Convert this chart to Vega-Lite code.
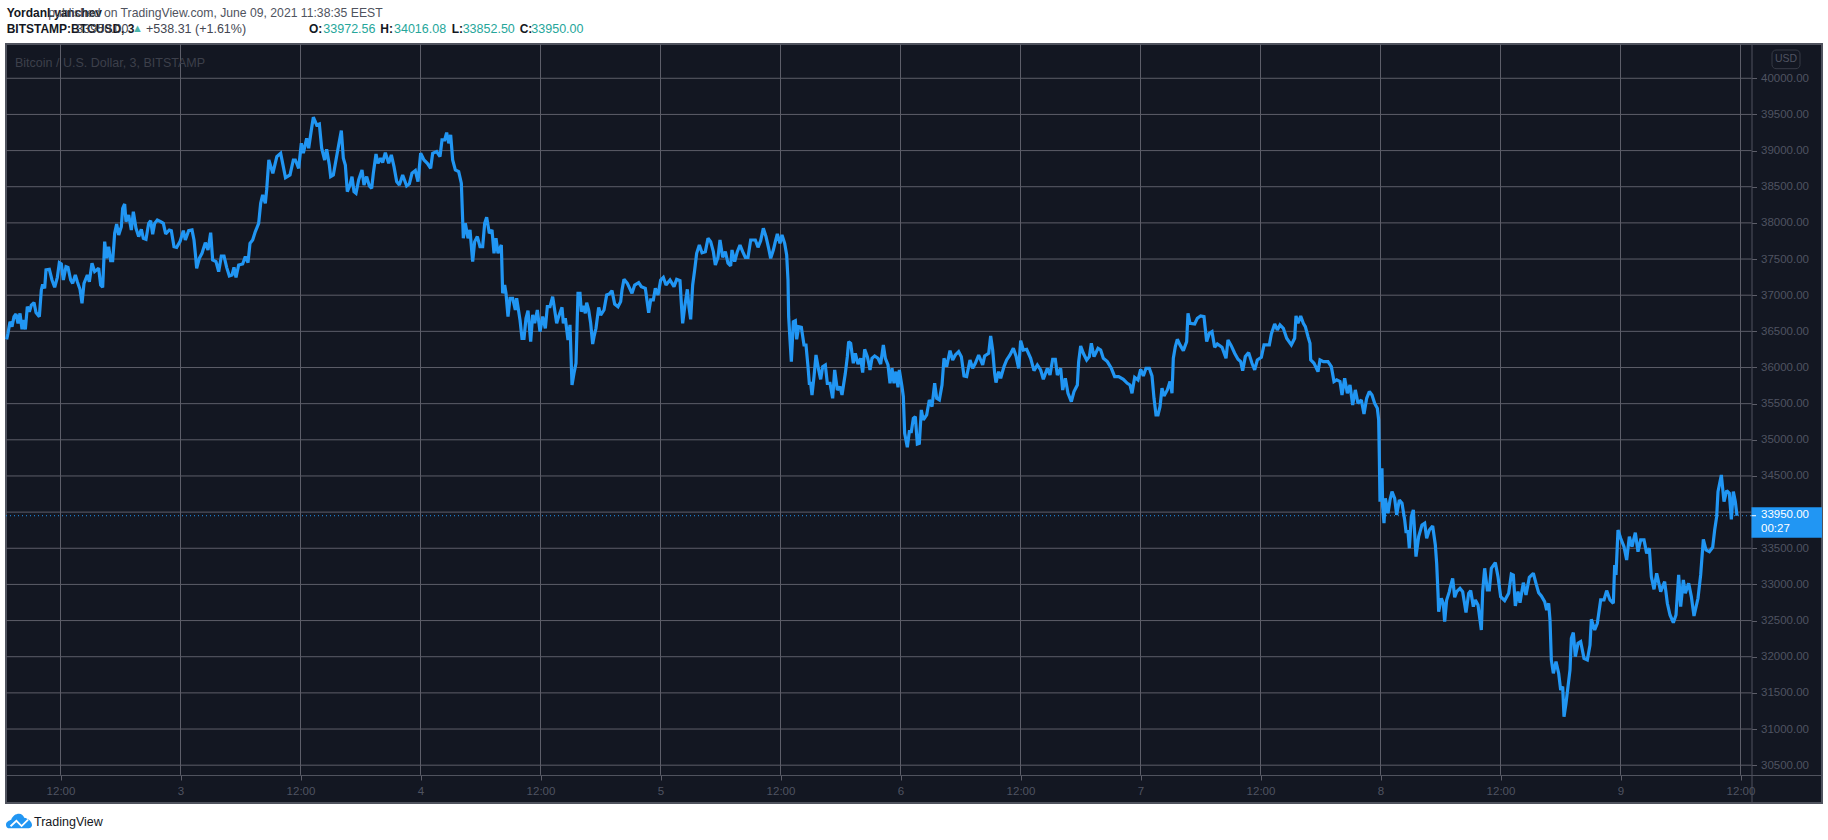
{
"$schema":"https://vega.github.io/schema/vega-lite/v6.json",
"description":"BTCUSD 3 minute line chart, TradingView style.",
"autosize":"none",
"width":1816,
"height":759,
"padding":{"left":6,"top":44,"right":6,"bottom":37},
"background":"#ffffff",
"view":{"fill":"#131722","stroke":"#50535e","strokeWidth":2},
"config":{"font":"Liberation Sans"},
"data":{"values":[{}]},
"datasets":{
"ticks":[{"t":"2021-06-02T12:00"},{"t":"2021-06-03T00:00"},{"t":"2021-06-03T12:00"},{"t":"2021-06-04T00:00"},{"t":"2021-06-04T12:00"},{"t":"2021-06-05T00:00"},{"t":"2021-06-05T12:00"},{"t":"2021-06-06T00:00"},{"t":"2021-06-06T12:00"},{"t":"2021-06-07T00:00"},{"t":"2021-06-07T12:00"},{"t":"2021-06-08T00:00"},{"t":"2021-06-08T12:00"},{"t":"2021-06-09T00:00"},{"t":"2021-06-09T12:00"}],
"levels":[{"p":30500},{"p":31000},{"p":31500},{"p":32000},{"p":32500},{"p":33000},{"p":33500},{"p":34000},{"p":34500},{"p":35000},{"p":35500},{"p":36000},{"p":36500},{"p":37000},{"p":37500},{"p":38000},{"p":38500},{"p":39000},{"p":39500},{"p":40000}],
"btc":[
{"t":"2021-06-02T06:37","p":36390},{"t":"2021-06-02T06:45","p":36473},{"t":"2021-06-02T06:57","p":36634},{"t":"2021-06-02T07:09","p":36565},{"t":"2021-06-02T07:21","p":36703},{"t":"2021-06-02T07:33","p":36740},{"t":"2021-06-02T07:45","p":36611},{"t":"2021-06-02T07:57","p":36749},{"t":"2021-06-02T08:09","p":36528},{"t":"2021-06-02T08:17","p":36657},{"t":"2021-06-02T08:29","p":36528},{"t":"2021-06-02T08:41","p":36841},{"t":"2021-06-02T08:53","p":36772},{"t":"2021-06-02T09:05","p":36864},{"t":"2021-06-02T09:21","p":36897},{"t":"2021-06-02T09:33","p":36759},{"t":"2021-06-02T09:53","p":36703},{"t":"2021-06-02T10:05","p":37072},{"t":"2021-06-02T10:13","p":37150},{"t":"2021-06-02T10:25","p":37095},{"t":"2021-06-02T10:33","p":37349},{"t":"2021-06-02T10:53","p":37358},{"t":"2021-06-02T11:09","p":37210},{"t":"2021-06-02T11:25","p":37109},{"t":"2021-06-02T11:41","p":37247},{"t":"2021-06-02T11:53","p":37450},{"t":"2021-06-02T12:05","p":37432},{"t":"2021-06-02T12:17","p":37210},{"t":"2021-06-02T12:33","p":37395},{"t":"2021-06-02T12:45","p":37385},{"t":"2021-06-02T13:01","p":37210},{"t":"2021-06-02T13:13","p":37164},{"t":"2021-06-02T13:29","p":37279},{"t":"2021-06-02T13:41","p":37187},{"t":"2021-06-02T13:57","p":37081},{"t":"2021-06-02T14:09","p":36888},{"t":"2021-06-02T14:21","p":37164},{"t":"2021-06-02T14:41","p":37279},{"t":"2021-06-02T14:53","p":37187},{"t":"2021-06-02T15:09","p":37441},{"t":"2021-06-02T15:25","p":37326},{"t":"2021-06-02T15:49","p":37372},{"t":"2021-06-02T16:01","p":37141},{"t":"2021-06-02T16:13","p":37109},{"t":"2021-06-02T16:25","p":37740},{"t":"2021-06-02T16:37","p":37510},{"t":"2021-06-02T16:49","p":37671},{"t":"2021-06-02T17:01","p":37478},{"t":"2021-06-02T17:13","p":37478},{"t":"2021-06-02T17:25","p":37856},{"t":"2021-06-02T17:37","p":37985},{"t":"2021-06-02T17:49","p":37833},{"t":"2021-06-02T18:05","p":37948},{"t":"2021-06-02T18:13","p":38201},{"t":"2021-06-02T18:25","p":38261},{"t":"2021-06-02T18:33","p":38017},{"t":"2021-06-02T18:49","p":38109},{"t":"2021-06-02T19:05","p":37902},{"t":"2021-06-02T19:17","p":38155},{"t":"2021-06-02T19:33","p":37925},{"t":"2021-06-02T19:49","p":37810},{"t":"2021-06-02T20:05","p":37911},{"t":"2021-06-02T20:17","p":37787},{"t":"2021-06-02T20:33","p":37773},{"t":"2021-06-02T20:49","p":37994},{"t":"2021-06-02T21:01","p":38031},{"t":"2021-06-02T21:13","p":37842},{"t":"2021-06-02T21:25","p":37994},{"t":"2021-06-02T21:41","p":38040},{"t":"2021-06-02T22:01","p":38017},{"t":"2021-06-02T22:17","p":37994},{"t":"2021-06-02T22:31","p":37847},{"t":"2021-06-02T22:53","p":37902},{"t":"2021-06-02T23:05","p":37893},{"t":"2021-06-02T23:21","p":37671},{"t":"2021-06-02T23:37","p":37662},{"t":"2021-06-02T23:57","p":37740},
{"t":"2021-06-03T00:17","p":37893},{"t":"2021-06-03T00:29","p":37763},{"t":"2021-06-03T00:49","p":37893},{"t":"2021-06-03T01:09","p":37902},{"t":"2021-06-03T01:21","p":37763},{"t":"2021-06-03T01:29","p":37579},{"t":"2021-06-03T01:37","p":37372},{"t":"2021-06-03T01:53","p":37510},{"t":"2021-06-03T02:09","p":37579},{"t":"2021-06-03T02:29","p":37727},{"t":"2021-06-03T02:45","p":37625},{"t":"2021-06-03T03:01","p":37865},{"t":"2021-06-03T03:13","p":37487},{"t":"2021-06-03T03:33","p":37464},{"t":"2021-06-03T03:49","p":37326},{"t":"2021-06-03T04:05","p":37542},{"t":"2021-06-03T04:21","p":37542},{"t":"2021-06-03T04:37","p":37385},{"t":"2021-06-03T04:53","p":37266},{"t":"2021-06-03T05:09","p":37279},{"t":"2021-06-03T05:21","p":37385},{"t":"2021-06-03T05:33","p":37247},{"t":"2021-06-03T05:49","p":37418},{"t":"2021-06-03T06:13","p":37432},{"t":"2021-06-03T06:29","p":37533},{"t":"2021-06-03T06:45","p":37450},{"t":"2021-06-03T06:57","p":37717},{"t":"2021-06-03T07:13","p":37763},{"t":"2021-06-03T07:29","p":37879},{"t":"2021-06-03T07:49","p":37994},{"t":"2021-06-03T08:01","p":38271},{"t":"2021-06-03T08:13","p":38386},{"t":"2021-06-03T08:29","p":38271},{"t":"2021-06-03T08:37","p":38455},{"t":"2021-06-03T08:50","p":38870},{"t":"2021-06-03T09:14","p":38686},{"t":"2021-06-03T09:38","p":38916},{"t":"2021-06-03T10:01","p":38962},{"t":"2021-06-03T10:30","p":38626},{"t":"2021-06-03T10:57","p":38663},{"t":"2021-06-03T11:17","p":38870},{"t":"2021-06-03T11:29","p":38870},{"t":"2021-06-03T11:49","p":38755},{"t":"2021-06-03T12:05","p":39101},{"t":"2021-06-03T12:17","p":38963},{"t":"2021-06-03T12:37","p":39170},{"t":"2021-06-03T12:49","p":39032},{"t":"2021-06-03T13:05","p":39285},{"t":"2021-06-03T13:17","p":39461},{"t":"2021-06-03T13:37","p":39355},{"t":"2021-06-03T13:53","p":39368},{"t":"2021-06-03T14:07","p":39032},{"t":"2021-06-03T14:25","p":38870},{"t":"2021-06-03T14:37","p":39018},{"t":"2021-06-03T14:53","p":38801},{"t":"2021-06-03T15:01","p":38640},{"t":"2021-06-03T15:17","p":38663},{"t":"2021-06-03T15:33","p":38870},{"t":"2021-06-03T15:49","p":39078},{"t":"2021-06-03T16:05","p":39276},{"t":"2021-06-03T16:17","p":38894},{"t":"2021-06-03T16:29","p":38801},{"t":"2021-06-03T16:41","p":38433},{"t":"2021-06-03T16:57","p":38525},{"t":"2021-06-03T17:09","p":38640},{"t":"2021-06-03T17:21","p":38433},{"t":"2021-06-03T17:33","p":38410},{"t":"2021-06-03T17:49","p":38594},{"t":"2021-06-03T18:09","p":38732},{"t":"2021-06-03T18:21","p":38525},{"t":"2021-06-03T18:37","p":38640},{"t":"2021-06-03T18:53","p":38511},{"t":"2021-06-03T19:07","p":38479},{"t":"2021-06-03T19:17","p":38686},{"t":"2021-06-03T19:33","p":38953},{"t":"2021-06-03T19:45","p":38824},{"t":"2021-06-03T20:01","p":38894},{"t":"2021-06-03T20:13","p":38834},{"t":"2021-06-03T20:29","p":38972},{"t":"2021-06-03T20:49","p":38824},{"t":"2021-06-03T21:05","p":38940},{"t":"2021-06-03T21:21","p":38778},{"t":"2021-06-03T21:37","p":38571},{"t":"2021-06-03T21:53","p":38525},{"t":"2021-06-03T22:13","p":38663},{"t":"2021-06-03T22:37","p":38511},{"t":"2021-06-03T22:53","p":38539},{"t":"2021-06-03T23:09","p":38686},{"t":"2021-06-03T23:29","p":38723},{"t":"2021-06-03T23:45","p":38571},
{"t":"2021-06-04T00:01","p":38963},{"t":"2021-06-04T00:21","p":38870},{"t":"2021-06-04T00:41","p":38824},{"t":"2021-06-04T01:01","p":38755},{"t":"2021-06-04T01:13","p":38963},{"t":"2021-06-04T01:37","p":38986},{"t":"2021-06-04T01:57","p":38917},{"t":"2021-06-04T02:09","p":39147},{"t":"2021-06-04T02:25","p":39147},{"t":"2021-06-04T02:37","p":39249},{"t":"2021-06-04T02:49","p":39101},{"t":"2021-06-04T03:01","p":39216},{"t":"2021-06-04T03:13","p":38870},{"t":"2021-06-04T03:29","p":38732},{"t":"2021-06-04T03:49","p":38709},{"t":"2021-06-04T04:05","p":38548},{"t":"2021-06-04T04:13","p":38041},{"t":"2021-06-04T04:17","p":37787},{"t":"2021-06-04T04:29","p":37995},{"t":"2021-06-04T04:45","p":37787},{"t":"2021-06-04T04:57","p":37902},{"t":"2021-06-04T05:13","p":37464},{"t":"2021-06-04T05:25","p":37741},{"t":"2021-06-04T05:41","p":37810},{"t":"2021-06-04T05:57","p":37672},{"t":"2021-06-04T06:13","p":37672},{"t":"2021-06-04T06:25","p":37995},{"t":"2021-06-04T06:37","p":38078},{"t":"2021-06-04T06:53","p":37856},{"t":"2021-06-04T07:09","p":37902},{"t":"2021-06-04T07:21","p":37580},{"t":"2021-06-04T07:33","p":37787},{"t":"2021-06-04T07:45","p":37580},{"t":"2021-06-04T08:05","p":37695},{"t":"2021-06-04T08:13","p":37026},{"t":"2021-06-04T08:25","p":37142},{"t":"2021-06-04T08:33","p":37026},{"t":"2021-06-04T08:45","p":36704},{"t":"2021-06-04T08:57","p":36957},{"t":"2021-06-04T09:13","p":36957},{"t":"2021-06-04T09:29","p":36796},{"t":"2021-06-04T09:37","p":36957},{"t":"2021-06-04T09:57","p":36658},{"t":"2021-06-04T10:09","p":36404},{"t":"2021-06-04T10:21","p":36404},{"t":"2021-06-04T10:33","p":36681},{"t":"2021-06-04T10:45","p":36787},{"t":"2021-06-04T11:01","p":36358},{"t":"2021-06-04T11:13","p":36727},{"t":"2021-06-04T11:25","p":36612},{"t":"2021-06-04T11:41","p":36796},{"t":"2021-06-04T11:57","p":36496},{"t":"2021-06-04T12:13","p":36704},{"t":"2021-06-04T12:29","p":36542},{"t":"2021-06-04T12:41","p":36842},{"t":"2021-06-04T12:57","p":36842},{"t":"2021-06-04T13:13","p":36980},{"t":"2021-06-04T13:37","p":36612},{"t":"2021-06-04T13:49","p":36704},{"t":"2021-06-04T14:09","p":36833},{"t":"2021-06-04T14:17","p":36612},{"t":"2021-06-04T14:29","p":36681},{"t":"2021-06-04T14:45","p":36381},{"t":"2021-06-04T14:57","p":36589},{"t":"2021-06-04T15:09","p":35759},{"t":"2021-06-04T15:21","p":35920},{"t":"2021-06-04T15:33","p":36058},{"t":"2021-06-04T15:45","p":37026},{"t":"2021-06-04T15:57","p":37026},{"t":"2021-06-04T16:05","p":36772},{"t":"2021-06-04T16:17","p":36851},{"t":"2021-06-04T16:29","p":36749},{"t":"2021-06-04T16:37","p":36897},{"t":"2021-06-04T16:49","p":36795},{"t":"2021-06-04T17:01","p":36611},{"t":"2021-06-04T17:13","p":36325},{"t":"2021-06-04T17:21","p":36426},{"t":"2021-06-04T17:33","p":36542},{"t":"2021-06-04T17:49","p":36832},{"t":"2021-06-04T18:01","p":36726},{"t":"2021-06-04T18:21","p":36795},{"t":"2021-06-04T18:37","p":37003},{"t":"2021-06-04T18:53","p":37017},{"t":"2021-06-04T19:09","p":37063},{"t":"2021-06-04T19:25","p":36878},{"t":"2021-06-04T19:45","p":36841},{"t":"2021-06-04T20:01","p":36911},{"t":"2021-06-04T20:09","p":37072},{"t":"2021-06-04T20:21","p":37219},{"t":"2021-06-04T20:41","p":37164},{"t":"2021-06-04T21:09","p":37026},{"t":"2021-06-04T21:25","p":37141},{"t":"2021-06-04T21:49","p":37173},{"t":"2021-06-04T22:05","p":37118},{"t":"2021-06-04T22:29","p":37095},{"t":"2021-06-04T22:49","p":36758},{"t":"2021-06-04T23:01","p":36934},{"t":"2021-06-04T23:17","p":36934},{"t":"2021-06-04T23:29","p":37095},{"t":"2021-06-04T23:45","p":37003},
{"t":"2021-06-05T00:01","p":37210},{"t":"2021-06-05T00:17","p":37247},{"t":"2021-06-05T00:33","p":37141},{"t":"2021-06-05T00:57","p":37210},{"t":"2021-06-05T01:21","p":37118},{"t":"2021-06-05T01:37","p":37219},{"t":"2021-06-05T01:57","p":37201},{"t":"2021-06-05T02:05","p":36888},{"t":"2021-06-05T02:13","p":36611},{"t":"2021-06-05T02:25","p":36832},{"t":"2021-06-05T02:41","p":37081},{"t":"2021-06-05T02:51","p":36832},{"t":"2021-06-05T03:01","p":36666},{"t":"2021-06-05T03:13","p":37141},{"t":"2021-06-05T03:25","p":37349},{"t":"2021-06-05T03:37","p":37579},{"t":"2021-06-05T03:53","p":37694},{"t":"2021-06-05T04:09","p":37588},{"t":"2021-06-05T04:29","p":37602},{"t":"2021-06-05T04:45","p":37786},{"t":"2021-06-05T05:01","p":37740},{"t":"2021-06-05T05:17","p":37602},{"t":"2021-06-05T05:29","p":37418},{"t":"2021-06-05T05:45","p":37524},{"t":"2021-06-05T05:57","p":37763},{"t":"2021-06-05T06:13","p":37524},{"t":"2021-06-05T06:29","p":37602},{"t":"2021-06-05T06:45","p":37441},{"t":"2021-06-05T07:01","p":37404},{"t":"2021-06-05T07:09","p":37625},{"t":"2021-06-05T07:25","p":37464},{"t":"2021-06-05T07:41","p":37602},{"t":"2021-06-05T07:57","p":37694},{"t":"2021-06-05T08:13","p":37602},{"t":"2021-06-05T08:29","p":37524},{"t":"2021-06-05T08:45","p":37524},{"t":"2021-06-05T09:01","p":37763},{"t":"2021-06-05T09:29","p":37763},{"t":"2021-06-05T09:45","p":37662},{"t":"2021-06-05T10:01","p":37754},{"t":"2021-06-05T10:17","p":37925},{"t":"2021-06-05T10:33","p":37810},{"t":"2021-06-05T10:49","p":37648},{"t":"2021-06-05T11:01","p":37510},{"t":"2021-06-05T11:17","p":37625},{"t":"2021-06-05T11:29","p":37740},{"t":"2021-06-05T11:41","p":37846},{"t":"2021-06-05T11:57","p":37717},{"t":"2021-06-05T12:09","p":37833},{"t":"2021-06-05T12:25","p":37717},{"t":"2021-06-05T12:37","p":37556},{"t":"2021-06-05T12:45","p":37210},{"t":"2021-06-05T12:49","p":36703},{"t":"2021-06-05T12:57","p":36380},{"t":"2021-06-05T13:05","p":36081},{"t":"2021-06-05T13:17","p":36634},{"t":"2021-06-05T13:29","p":36648},{"t":"2021-06-05T13:37","p":36390},{"t":"2021-06-05T13:49","p":36565},{"t":"2021-06-05T14:05","p":36556},{"t":"2021-06-05T14:21","p":36311},{"t":"2021-06-05T14:33","p":36311},{"t":"2021-06-05T14:45","p":36012},{"t":"2021-06-05T14:53","p":35781},{"t":"2021-06-05T15:01","p":35781},{"t":"2021-06-05T15:09","p":35620},{"t":"2021-06-05T15:21","p":35873},{"t":"2021-06-05T15:33","p":36173},{"t":"2021-06-05T15:49","p":35966},{"t":"2021-06-05T16:01","p":35836},{"t":"2021-06-05T16:13","p":36012},{"t":"2021-06-05T16:29","p":36035},{"t":"2021-06-05T16:41","p":35781},{"t":"2021-06-05T16:57","p":35781},{"t":"2021-06-05T17:13","p":35574},{"t":"2021-06-05T17:25","p":35966},{"t":"2021-06-05T17:41","p":35689},{"t":"2021-06-05T17:57","p":35735},{"t":"2021-06-05T18:09","p":35620},{"t":"2021-06-05T18:29","p":35919},{"t":"2021-06-05T18:41","p":36150},{"t":"2021-06-05T18:49","p":36357},{"t":"2021-06-05T19:01","p":36334},{"t":"2021-06-05T19:17","p":36058},{"t":"2021-06-05T19:29","p":36196},{"t":"2021-06-05T19:45","p":36048},{"t":"2021-06-05T20:01","p":36127},{"t":"2021-06-05T20:13","p":35929},{"t":"2021-06-05T20:25","p":36251},{"t":"2021-06-05T20:41","p":36150},{"t":"2021-06-05T20:53","p":36021},{"t":"2021-06-05T20:57","p":35966},{"t":"2021-06-05T21:09","p":36127},{"t":"2021-06-05T21:25","p":36160},{"t":"2021-06-05T21:45","p":36127},{"t":"2021-06-05T22:01","p":36049},{"t":"2021-06-05T22:17","p":36312},{"t":"2021-06-05T22:29","p":36127},{"t":"2021-06-05T22:45","p":36035},{"t":"2021-06-05T22:57","p":35782},{"t":"2021-06-05T23:09","p":35989},{"t":"2021-06-05T23:21","p":35782},{"t":"2021-06-05T23:33","p":35943},{"t":"2021-06-05T23:45","p":35726},{"t":"2021-06-05T23:53","p":35966},
{"t":"2021-06-06T00:09","p":35735},{"t":"2021-06-06T00:17","p":35597},{"t":"2021-06-06T00:25","p":35090},{"t":"2021-06-06T00:41","p":34896},{"t":"2021-06-06T00:53","p":35113},{"t":"2021-06-06T01:05","p":35113},{"t":"2021-06-06T01:17","p":35297},{"t":"2021-06-06T01:29","p":35320},{"t":"2021-06-06T01:41","p":34942},{"t":"2021-06-06T01:53","p":34952},{"t":"2021-06-06T02:05","p":35413},{"t":"2021-06-06T02:17","p":35274},{"t":"2021-06-06T02:37","p":35344},{"t":"2021-06-06T02:53","p":35551},{"t":"2021-06-06T03:09","p":35459},{"t":"2021-06-06T03:25","p":35782},{"t":"2021-06-06T03:37","p":35574},{"t":"2021-06-06T03:53","p":35551},{"t":"2021-06-06T04:09","p":35758},{"t":"2021-06-06T04:21","p":36127},{"t":"2021-06-06T04:37","p":36012},{"t":"2021-06-06T04:57","p":36233},{"t":"2021-06-06T05:13","p":36104},{"t":"2021-06-06T05:29","p":36173},{"t":"2021-06-06T05:49","p":36219},{"t":"2021-06-06T06:05","p":36150},{"t":"2021-06-06T06:21","p":35883},{"t":"2021-06-06T06:37","p":35874},{"t":"2021-06-06T06:57","p":36104},{"t":"2021-06-06T07:13","p":35989},{"t":"2021-06-06T07:29","p":36058},{"t":"2021-06-06T07:49","p":36173},{"t":"2021-06-06T08:13","p":36035},{"t":"2021-06-06T08:25","p":36160},{"t":"2021-06-06T08:49","p":36196},{"t":"2021-06-06T09:01","p":36436},{"t":"2021-06-06T09:13","p":36242},{"t":"2021-06-06T09:25","p":35920},{"t":"2021-06-06T09:33","p":35791},{"t":"2021-06-06T09:49","p":35943},{"t":"2021-06-06T10:01","p":35851},{"t":"2021-06-06T10:21","p":36012},{"t":"2021-06-06T10:37","p":36104},{"t":"2021-06-06T10:57","p":36173},{"t":"2021-06-06T11:17","p":36266},{"t":"2021-06-06T11:33","p":36160},{"t":"2021-06-06T11:49","p":35989},{"t":"2021-06-06T12:01","p":36372},{"t":"2021-06-06T12:17","p":36242},{"t":"2021-06-06T12:37","p":36252},{"t":"2021-06-06T13:01","p":36127},{"t":"2021-06-06T13:21","p":35957},{"t":"2021-06-06T13:41","p":36035},{"t":"2021-06-06T14:01","p":35966},{"t":"2021-06-06T14:17","p":35837},{"t":"2021-06-06T14:41","p":35989},{"t":"2021-06-06T14:57","p":35897},{"t":"2021-06-06T15:13","p":36113},{"t":"2021-06-06T15:29","p":36113},{"t":"2021-06-06T15:41","p":35897},{"t":"2021-06-06T16:01","p":35989},{"t":"2021-06-06T16:13","p":35689},{"t":"2021-06-06T16:29","p":35851},{"t":"2021-06-06T16:45","p":35643},{"t":"2021-06-06T17:05","p":35528},{"t":"2021-06-06T17:21","p":35666},{"t":"2021-06-06T17:41","p":35758},{"t":"2021-06-06T17:49","p":36081},{"t":"2021-06-06T18:01","p":36298},{"t":"2021-06-06T18:17","p":36196},{"t":"2021-06-06T18:37","p":36104},{"t":"2021-06-06T18:53","p":36150},{"t":"2021-06-06T19:05","p":36335},{"t":"2021-06-06T19:21","p":36150},{"t":"2021-06-06T19:45","p":36266},{"t":"2021-06-06T20:01","p":36242},{"t":"2021-06-06T20:17","p":36127},{"t":"2021-06-06T20:41","p":36081},{"t":"2021-06-06T21:05","p":35989},{"t":"2021-06-06T21:25","p":35874},{"t":"2021-06-06T21:49","p":35874},{"t":"2021-06-06T22:17","p":35837},{"t":"2021-06-06T22:41","p":35782},{"t":"2021-06-06T22:57","p":35758},{"t":"2021-06-06T23:09","p":35643},{"t":"2021-06-06T23:25","p":35864},{"t":"2021-06-06T23:45","p":35828},
{"t":"2021-06-07T00:01","p":35975},{"t":"2021-06-07T00:17","p":35883},{"t":"2021-06-07T00:33","p":35989},{"t":"2021-06-07T00:53","p":35989},{"t":"2021-06-07T01:09","p":35883},{"t":"2021-06-07T01:21","p":35574},{"t":"2021-06-07T01:33","p":35344},{"t":"2021-06-07T01:45","p":35344},{"t":"2021-06-07T01:57","p":35459},{"t":"2021-06-07T02:09","p":35713},{"t":"2021-06-07T02:21","p":35607},{"t":"2021-06-07T02:41","p":35690},{"t":"2021-06-07T02:57","p":35805},{"t":"2021-06-07T03:09","p":35644},{"t":"2021-06-07T03:17","p":36128},{"t":"2021-06-07T03:29","p":36289},{"t":"2021-06-07T03:41","p":36390},{"t":"2021-06-07T03:57","p":36312},{"t":"2021-06-07T04:17","p":36234},{"t":"2021-06-07T04:37","p":36358},{"t":"2021-06-07T04:45","p":36750},{"t":"2021-06-07T04:57","p":36612},{"t":"2021-06-07T05:25","p":36602},{"t":"2021-06-07T05:41","p":36681},{"t":"2021-06-07T06:01","p":36713},{"t":"2021-06-07T06:21","p":36704},{"t":"2021-06-07T06:37","p":36358},{"t":"2021-06-07T06:53","p":36473},{"t":"2021-06-07T07:09","p":36496},{"t":"2021-06-07T07:25","p":36280},{"t":"2021-06-07T07:41","p":36326},{"t":"2021-06-07T08:09","p":36280},{"t":"2021-06-07T08:33","p":36128},{"t":"2021-06-07T08:45","p":36381},{"t":"2021-06-07T09:05","p":36298},{"t":"2021-06-07T09:25","p":36197},{"t":"2021-06-07T09:45","p":36114},{"t":"2021-06-07T10:01","p":36081},{"t":"2021-06-07T10:13","p":35957},{"t":"2021-06-07T10:29","p":36151},{"t":"2021-06-07T10:49","p":36206},{"t":"2021-06-07T11:09","p":36058},{"t":"2021-06-07T11:25","p":35966},{"t":"2021-06-07T11:41","p":36104},{"t":"2021-06-07T12:05","p":36141},{"t":"2021-06-07T12:21","p":36312},{"t":"2021-06-07T12:53","p":36312},{"t":"2021-06-07T13:05","p":36464},{"t":"2021-06-07T13:25","p":36602},{"t":"2021-06-07T13:41","p":36519},{"t":"2021-06-07T13:57","p":36589},{"t":"2021-06-07T14:17","p":36542},{"t":"2021-06-07T14:37","p":36404},{"t":"2021-06-07T15:05","p":36312},{"t":"2021-06-07T15:25","p":36404},{"t":"2021-06-07T15:33","p":36713},{"t":"2021-06-07T15:45","p":36612},{"t":"2021-06-07T16:01","p":36713},{"t":"2021-06-07T16:17","p":36612},{"t":"2021-06-07T16:29","p":36566},{"t":"2021-06-07T16:45","p":36427},{"t":"2021-06-07T16:57","p":36335},{"t":"2021-06-07T17:01","p":36105},{"t":"2021-06-07T17:21","p":36058},{"t":"2021-06-07T17:45","p":35943},{"t":"2021-06-07T17:57","p":36105},{"t":"2021-06-07T18:17","p":36081},{"t":"2021-06-07T18:45","p":36081},{"t":"2021-06-07T19:05","p":36012},{"t":"2021-06-07T19:21","p":35805},{"t":"2021-06-07T19:37","p":35828},{"t":"2021-06-07T19:57","p":35805},{"t":"2021-06-07T20:09","p":35620},{"t":"2021-06-07T20:25","p":35851},{"t":"2021-06-07T20:41","p":35644},{"t":"2021-06-07T20:57","p":35759},{"t":"2021-06-07T21:13","p":35482},{"t":"2021-06-07T21:29","p":35690},{"t":"2021-06-07T21:45","p":35505},{"t":"2021-06-07T22:05","p":35551},{"t":"2021-06-07T22:21","p":35358},{"t":"2021-06-07T22:37","p":35574},{"t":"2021-06-07T22:53","p":35667},{"t":"2021-06-07T23:09","p":35620},{"t":"2021-06-07T23:25","p":35505},{"t":"2021-06-07T23:41","p":35436},{"t":"2021-06-07T23:49","p":35275},{"t":"2021-06-07T23:53","p":34768},{"t":"2021-06-07T23:57","p":34145},
{"t":"2021-06-08T00:01","p":34583},{"t":"2021-06-08T00:09","p":34583},{"t":"2021-06-08T00:13","p":34076},{"t":"2021-06-08T00:21","p":33846},{"t":"2021-06-08T00:29","p":34191},{"t":"2021-06-08T00:45","p":33984},{"t":"2021-06-08T00:57","p":34168},{"t":"2021-06-08T01:09","p":34283},{"t":"2021-06-08T01:25","p":34191},{"t":"2021-06-08T01:37","p":33961},{"t":"2021-06-08T01:53","p":34168},{"t":"2021-06-08T02:09","p":34122},{"t":"2021-06-08T02:25","p":33892},{"t":"2021-06-08T02:33","p":33730},{"t":"2021-06-08T02:45","p":33730},{"t":"2021-06-08T02:53","p":33500},{"t":"2021-06-08T03:05","p":33938},{"t":"2021-06-08T03:17","p":34030},{"t":"2021-06-08T03:33","p":33385},{"t":"2021-06-08T03:49","p":33661},{"t":"2021-06-08T04:09","p":33823},{"t":"2021-06-08T04:25","p":33846},{"t":"2021-06-08T04:37","p":33638},{"t":"2021-06-08T04:53","p":33753},{"t":"2021-06-08T05:13","p":33809},{"t":"2021-06-08T05:29","p":33546},{"t":"2021-06-08T05:37","p":33292},{"t":"2021-06-08T05:45","p":32877},{"t":"2021-06-08T05:49","p":32624},{"t":"2021-06-08T06:05","p":32808},{"t":"2021-06-08T06:17","p":32739},{"t":"2021-06-08T06:25","p":32486},{"t":"2021-06-08T06:37","p":32785},{"t":"2021-06-08T06:53","p":32900},{"t":"2021-06-08T06:57","p":32946},{"t":"2021-06-08T07:13","p":33084},{"t":"2021-06-08T07:25","p":32822},{"t":"2021-06-08T07:37","p":32900},{"t":"2021-06-08T07:57","p":32946},{"t":"2021-06-08T08:13","p":32900},{"t":"2021-06-08T08:33","p":32610},{"t":"2021-06-08T08:49","p":32877},{"t":"2021-06-08T09:01","p":32914},{"t":"2021-06-08T09:17","p":32693},{"t":"2021-06-08T09:29","p":32785},{"t":"2021-06-08T09:45","p":32716},{"t":"2021-06-08T10:05","p":32370},{"t":"2021-06-08T10:13","p":32900},{"t":"2021-06-08T10:25","p":33223},{"t":"2021-06-08T10:41","p":32923},{"t":"2021-06-08T10:53","p":32923},{"t":"2021-06-08T11:05","p":33223},{"t":"2021-06-08T11:29","p":33301},{"t":"2021-06-08T11:45","p":33107},{"t":"2021-06-08T12:01","p":32831},{"t":"2021-06-08T12:25","p":32776},{"t":"2021-06-08T12:49","p":32877},{"t":"2021-06-08T13:05","p":33144},{"t":"2021-06-08T13:17","p":33131},{"t":"2021-06-08T13:29","p":32702},{"t":"2021-06-08T13:45","p":32900},{"t":"2021-06-08T13:57","p":32748},{"t":"2021-06-08T14:17","p":33024},{"t":"2021-06-08T14:33","p":32854},{"t":"2021-06-08T14:53","p":33098},{"t":"2021-06-08T15:17","p":33154},{"t":"2021-06-08T15:33","p":33015},{"t":"2021-06-08T15:49","p":32886},{"t":"2021-06-08T16:05","p":32840},{"t":"2021-06-08T16:25","p":32762},{"t":"2021-06-08T16:37","p":32646},{"t":"2021-06-08T16:49","p":32739},{"t":"2021-06-08T16:57","p":32508},{"t":"2021-06-08T17:05","p":31955},{"t":"2021-06-08T17:17","p":31771},{"t":"2021-06-08T17:33","p":31932},{"t":"2021-06-08T17:49","p":31771},{"t":"2021-06-08T18:01","p":31540},{"t":"2021-06-08T18:13","p":31586},{"t":"2021-06-08T18:21","p":31171},{"t":"2021-06-08T18:33","p":31356},{"t":"2021-06-08T18:45","p":31586},{"t":"2021-06-08T18:57","p":31817},{"t":"2021-06-08T19:05","p":32255},{"t":"2021-06-08T19:17","p":32333},{"t":"2021-06-08T19:29","p":32001},{"t":"2021-06-08T19:45","p":32185},{"t":"2021-06-08T20:01","p":32208},{"t":"2021-06-08T20:21","p":31978},{"t":"2021-06-08T20:41","p":31955},{"t":"2021-06-08T20:57","p":32162},{"t":"2021-06-08T21:05","p":32517},{"t":"2021-06-08T21:25","p":32370},{"t":"2021-06-08T21:41","p":32462},{"t":"2021-06-08T22:01","p":32785},{"t":"2021-06-08T22:21","p":32785},{"t":"2021-06-08T22:37","p":32914},{"t":"2021-06-08T22:57","p":32785},{"t":"2021-06-08T23:17","p":32739},{"t":"2021-06-08T23:25","p":33269},{"t":"2021-06-08T23:33","p":33131},{"t":"2021-06-08T23:45","p":33753},
{"t":"2021-06-09T00:01","p":33638},{"t":"2021-06-09T00:21","p":33522},{"t":"2021-06-09T00:37","p":33338},{"t":"2021-06-09T00:53","p":33661},{"t":"2021-06-09T01:09","p":33522},{"t":"2021-06-09T01:29","p":33716},{"t":"2021-06-09T01:45","p":33453},{"t":"2021-06-09T02:01","p":33615},{"t":"2021-06-09T02:21","p":33615},{"t":"2021-06-09T02:37","p":33430},{"t":"2021-06-09T02:53","p":33499},{"t":"2021-06-09T03:05","p":33107},{"t":"2021-06-09T03:21","p":32932},{"t":"2021-06-09T03:37","p":33154},{"t":"2021-06-09T04:01","p":32900},{"t":"2021-06-09T04:25","p":33038},{"t":"2021-06-09T04:41","p":32739},{"t":"2021-06-09T04:57","p":32577},{"t":"2021-06-09T05:17","p":32471},{"t":"2021-06-09T05:33","p":32577},{"t":"2021-06-09T05:49","p":33131},{"t":"2021-06-09T06:01","p":32693},{"t":"2021-06-09T06:17","p":33061},{"t":"2021-06-09T06:29","p":32877},{"t":"2021-06-09T06:49","p":33015},{"t":"2021-06-09T07:05","p":32831},{"t":"2021-06-09T07:21","p":32564},{"t":"2021-06-09T07:45","p":32808},{"t":"2021-06-09T08:01","p":33131},{"t":"2021-06-09T08:17","p":33624},{"t":"2021-06-09T08:33","p":33476},{"t":"2021-06-09T08:53","p":33453},{"t":"2021-06-09T09:13","p":33513},{"t":"2021-06-09T09:25","p":33753},{"t":"2021-06-09T09:37","p":33937},{"t":"2021-06-09T09:45","p":34283},{"t":"2021-06-09T10:05","p":34514},{"t":"2021-06-09T10:21","p":34145},{"t":"2021-06-09T10:37","p":34297},{"t":"2021-06-09T10:53","p":34260},{"t":"2021-06-09T11:05","p":33900},{"t":"2021-06-09T11:17","p":34283},{"t":"2021-06-09T11:29","p":34145},{"t":"2021-06-09T11:39","p":33950}
]
},
"layer":[
{"data":{"name":"ticks"},"mark":{"type":"rule","color":"#5d5e69","strokeWidth":1},
 "encoding":{
  "x":{"field":"t","type":"temporal","scale":{"type":"time","domain":["2021-06-02T06:33","2021-06-09T20:09"],"nice":false},
   "axis":{"orient":"bottom","offset":-28,"title":null,"grid":false,"values":["2021-06-02T12:00","2021-06-03T00:00","2021-06-03T12:00","2021-06-04T00:00","2021-06-04T12:00","2021-06-05T00:00","2021-06-05T12:00","2021-06-06T00:00","2021-06-06T12:00","2021-06-07T00:00","2021-06-07T12:00","2021-06-08T00:00","2021-06-08T12:00","2021-06-09T00:00","2021-06-09T12:00"],
   "labelExpr":"hours(datum.value)==12 ? '12:00' : date(datum.value)","labelFontSize":11.5,"labelColor":"#4f5361","labelPadding":5,"labelOverlap":false,"labelFlush":false,"tickColor":"#5d5e69","tickSize":5,"domainColor":"#50535e","domainWidth":1}},
  "y":{"datum":30366,"type":"quantitative","scale":{"domain":[29977,40474],"nice":false,"zero":false},
   "axis":{"orient":"right","offset":-70.5,"title":null,"grid":false,"tickCount":30,"values":[30500,31000,31500,32000,32500,33000,33500,34000,34500,35000,35500,36000,36500,37000,37500,38000,38500,39000,39500,40000],
   "format":".2f","labelFontSize":11.5,"labelColor":"#4f5361","labelPadding":4,"labelOverlap":false,"labelFlush":false,"tickColor":"#5d5e69","tickSize":5,"domainColor":"#50535e","domainWidth":1}},
  "y2":{"datum":40474}}},
{"data":{"name":"levels"},"mark":{"type":"rule","color":"#5d5e69","strokeWidth":1},
 "encoding":{"y":{"field":"p","type":"quantitative"},"x":{"datum":{"year":2021,"month":6,"date":2,"hours":6,"minutes":33},"type":"temporal"},"x2":{"datum":{"year":2021,"month":6,"date":9,"hours":13,"minutes":6}}}},
{"data":{"name":"btc"},"mark":{"type":"line","color":"#2196f3","strokeWidth":3.2,"strokeJoin":"miter","strokeMiterLimit":2},
 "encoding":{"x":{"field":"t","type":"temporal"},"y":{"field":"p","type":"quantitative"}}},
{"mark":{"type":"rule","color":"#2196f3","strokeWidth":1,"strokeDash":[1,3]},
 "encoding":{"y":{"datum":33950},"x":{"datum":{"year":2021,"month":6,"date":2,"hours":6,"minutes":33},"type":"temporal"},"x2":{"datum":{"year":2021,"month":6,"date":9,"hours":13,"minutes":6}}}},
{"mark":{"type":"rect","color":"#2196f3"},
 "encoding":{"x":{"datum":{"year":2021,"month":6,"date":9,"hours":13,"minutes":6},"type":"temporal"},"x2":{"datum":{"year":2021,"month":6,"date":9,"hours":20,"minutes":9}},"y":{"datum":33647},"y2":{"datum":34067}}},
{"mark":{"type":"rule","color":"#ffffff","strokeWidth":1},
 "encoding":{"y":{"datum":33950},"x":{"datum":{"year":2021,"month":6,"date":9,"hours":13,"minutes":6},"type":"temporal"},"x2":{"datum":{"year":2021,"month":6,"date":9,"hours":13,"minutes":33}}}},
{"mark":{"type":"text","color":"#ffffff","fontSize":11.5,"align":"left","baseline":"middle"},
 "encoding":{"x":{"datum":{"year":2021,"month":6,"date":9,"hours":14,"minutes":3},"type":"temporal"},"y":{"datum":33956},"text":{"value":"33950.00"}}},
{"mark":{"type":"text","color":"#ffffff","fontSize":11.5,"align":"left","baseline":"middle"},
 "encoding":{"x":{"datum":{"year":2021,"month":6,"date":9,"hours":14,"minutes":3},"type":"temporal"},"y":{"datum":33763},"text":{"value":"00:27"}}},
{"mark":{"type":"rect","fill":"transparent","stroke":"#363a45","strokeWidth":1,"cornerRadius":4},
 "encoding":{"x":{"datum":{"year":2021,"month":6,"date":9,"hours":15,"minutes":9},"type":"temporal"},"x2":{"datum":{"year":2021,"month":6,"date":9,"hours":17,"minutes":57}},"y":{"datum":40133},"y2":{"datum":40391}}},
{"mark":{"type":"text","color":"#4f5361","fontSize":10.5,"align":"center","baseline":"middle"},
 "encoding":{"x":{"datum":{"year":2021,"month":6,"date":9,"hours":16,"minutes":33},"type":"temporal"},"y":{"datum":40262},"text":{"value":"USD"}}},
{"mark":{"type":"text","color":"#3d404b","fontSize":12.5,"align":"left","baseline":"middle"},
 "encoding":{"x":{"datum":{"year":2021,"month":6,"date":2,"hours":7,"minutes":27},"type":"temporal"},"y":{"datum":40215},"text":{"value":"Bitcoin / U.S. Dollar, 3, BITSTAMP"}}},
{"mark":{"type":"text","color":"#131722","fontSize":12,"fontWeight":"bold","align":"left","baseline":"middle"},
 "encoding":{"x":{"datum":{"year":2021,"month":6,"date":2,"hours":6,"minutes":37},"type":"temporal"},"y":{"datum":40907},"text":{"value":"YordanLyanchev"}}},
{"mark":{"type":"text","color":"#50535e","fontSize":12.2,"align":"left","baseline":"middle"},
 "encoding":{"x":{"datum":{"year":2021,"month":6,"date":2,"hours":10,"minutes":47},"type":"temporal"},"y":{"datum":40907},"text":{"value":"published on TradingView.com, June 09, 2021 11:38:35 EEST"}}},
{"mark":{"type":"text","color":"#131722","fontSize":12,"fontWeight":"bold","align":"left","baseline":"middle"},
 "encoding":{"x":{"datum":{"year":2021,"month":6,"date":2,"hours":6,"minutes":37},"type":"temporal"},"y":{"datum":40675},"text":{"value":"BITSTAMP:BTCUSD, 3"}}},
{"mark":{"type":"text","color":"#434651","fontSize":12.5,"align":"left","baseline":"middle"},
 "encoding":{"x":{"datum":{"year":2021,"month":6,"date":2,"hours":13,"minutes":35},"type":"temporal"},"y":{"datum":40675},"text":{"value":"33950.00"}}},
{"mark":{"type":"text","color":"#4db6ac","fontSize":11,"align":"left","baseline":"middle"},
 "encoding":{"x":{"datum":{"year":2021,"month":6,"date":2,"hours":19,"minutes":9},"type":"temporal"},"y":{"datum":40675},"text":{"value":"▲"}}},
{"mark":{"type":"text","color":"#434651","fontSize":12.5,"align":"left","baseline":"middle"},
 "encoding":{"x":{"datum":{"year":2021,"month":6,"date":2,"hours":20,"minutes":33},"type":"temporal"},"y":{"datum":40675},"text":{"value":"+538.31 (+1.61%)"}}},
{"mark":{"type":"text","color":"#131722","fontSize":12,"fontWeight":"bold","align":"left","baseline":"middle"},
 "encoding":{"x":{"datum":{"year":2021,"month":6,"date":3,"hours":12,"minutes":51},"type":"temporal"},"y":{"datum":40675},"text":{"value":"O:"}}},
{"mark":{"type":"text","color":"#26a69a","fontSize":12.5,"align":"left","baseline":"middle"},
 "encoding":{"x":{"datum":{"year":2021,"month":6,"date":3,"hours":14,"minutes":17},"type":"temporal"},"y":{"datum":40675},"text":{"value":"33972.56"}}},
{"mark":{"type":"text","color":"#131722","fontSize":12,"fontWeight":"bold","align":"left","baseline":"middle"},
 "encoding":{"x":{"datum":{"year":2021,"month":6,"date":3,"hours":19,"minutes":59},"type":"temporal"},"y":{"datum":40675},"text":{"value":"H:"}}},
{"mark":{"type":"text","color":"#26a69a","fontSize":12.5,"align":"left","baseline":"middle"},
 "encoding":{"x":{"datum":{"year":2021,"month":6,"date":3,"hours":21,"minutes":21},"type":"temporal"},"y":{"datum":40675},"text":{"value":"34016.08"}}},
{"mark":{"type":"text","color":"#131722","fontSize":12,"fontWeight":"bold","align":"left","baseline":"middle"},
 "encoding":{"x":{"datum":{"year":2021,"month":6,"date":4,"hours":3,"minutes":7},"type":"temporal"},"y":{"datum":40675},"text":{"value":"L:"}}},
{"mark":{"type":"text","color":"#26a69a","fontSize":12.5,"align":"left","baseline":"middle"},
 "encoding":{"x":{"datum":{"year":2021,"month":6,"date":4,"hours":4,"minutes":13},"type":"temporal"},"y":{"datum":40675},"text":{"value":"33852.50"}}},
{"mark":{"type":"text","color":"#131722","fontSize":12,"fontWeight":"bold","align":"left","baseline":"middle"},
 "encoding":{"x":{"datum":{"year":2021,"month":6,"date":4,"hours":9,"minutes":55},"type":"temporal"},"y":{"datum":40675},"text":{"value":"C:"}}},
{"mark":{"type":"text","color":"#26a69a","fontSize":12.5,"align":"left","baseline":"middle"},
 "encoding":{"x":{"datum":{"year":2021,"month":6,"date":4,"hours":11,"minutes":5},"type":"temporal"},"y":{"datum":40675},"text":{"value":"33950.00"}}},
{"mark":{"type":"point","shape":"M-1,.3 C-1,.05 -.75,-.05 -.6,-.1 C-.5,-.4 -.25,-.56 0,-.56 C.2,-.56 .35,-.4 .4,-.25 C.7,-.2 1,.05 1,.3 C1,.5 .8,.56 .65,.56 L-.7,.56 C-.9,.56 -1,.45 -1,.3 Z","filled":true,"color":"#2196f3","opacity":1,"size":676},
 "encoding":{"x":{"datum":{"year":2021,"month":6,"date":2,"hours":7,"minutes":51},"type":"temporal"},"y":{"datum":29727}}},
{"mark":{"type":"point","shape":"M-.65,.4 L-.2,-.02 L.2,.38 L.7,-.12","filled":false,"stroke":"#ffffff","strokeWidth":1.8,"opacity":1,"size":676},
 "encoding":{"x":{"datum":{"year":2021,"month":6,"date":2,"hours":7,"minutes":51},"type":"temporal"},"y":{"datum":29727}}},
{"mark":{"type":"text","color":"#131722","fontSize":12.5,"align":"left","baseline":"middle"},
 "encoding":{"x":{"datum":{"year":2021,"month":6,"date":2,"hours":9,"minutes":21},"type":"temporal"},"y":{"datum":29719},"text":{"value":"TradingView"}}}
]
}
